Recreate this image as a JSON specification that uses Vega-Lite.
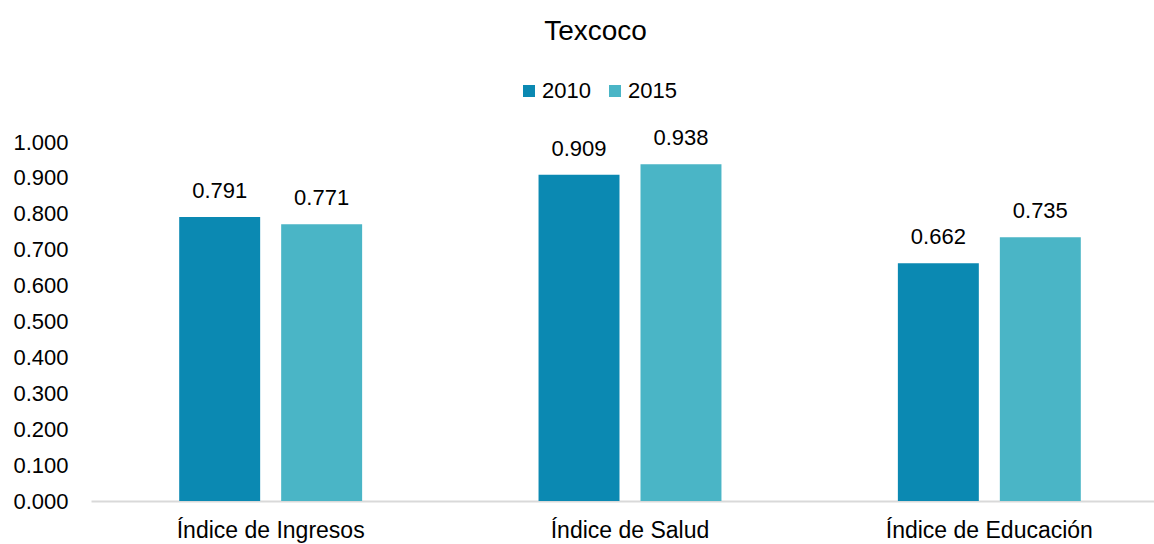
{
  "$schema": "https://vega.github.io/schema/vega-lite/v6.json",
  "autosize": "none",
  "width": 1063,
  "height": 359,
  "padding": {"left": 91, "top": 142, "right": 0, "bottom": 43},
  "background": "white",
  "config": {
    "font": "Liberation Sans",
    "view": {"stroke": null}
  },
  "title": {
    "text": "Texcoco",
    "fontSize": 28,
    "fontWeight": "normal",
    "color": "black",
    "anchor": "middle",
    "frame": "group",
    "baseline": "alphabetic",
    "offset": 12,
    "dx": -27
  },
  "data": {
    "values": [
      {"indice": "Índice de Ingresos", "year": "2010", "value": 0.791},
      {"indice": "Índice de Ingresos", "year": "2015", "value": 0.771},
      {"indice": "Índice de Salud", "year": "2010", "value": 0.909},
      {"indice": "Índice de Salud", "year": "2015", "value": 0.938},
      {"indice": "Índice de Educación", "year": "2010", "value": 0.662},
      {"indice": "Índice de Educación", "year": "2015", "value": 0.735}
    ]
  },
  "encoding": {
    "x": {
      "field": "indice",
      "type": "nominal",
      "sort": ["Índice de Ingresos", "Índice de Salud", "Índice de Educación"],
      "scale": {"range": [0, 1078], "paddingInner": 0, "paddingOuter": 0},
      "axis": {
        "title": null,
        "labelAngle": 0,
        "labelFontSize": 23,
        "labelColor": "black",
        "labelPadding": 18,
        "labelLimit": 0,
        "ticks": false,
        "domain": true,
        "domainColor": "#d9d9d9",
        "domainWidth": 2,
        "grid": false
      }
    },
    "xOffset": {
      "field": "year",
      "type": "nominal",
      "scale": {"domain": ["2010", "2015"], "paddingInner": 0.206, "paddingOuter": 0.865}
    },
    "y": {
      "field": "value",
      "type": "quantitative",
      "scale": {"domain": [0, 1], "nice": false},
      "axis": {
        "title": null,
        "values": [0, 0.1, 0.2, 0.3, 0.4, 0.5, 0.6, 0.7, 0.8, 0.9, 1.0],
        "format": ".3f",
        "labelFontSize": 22,
        "labelColor": "black",
        "labelPadding": 23,
        "ticks": false,
        "domain": false,
        "grid": false
      }
    }
  },
  "layer": [
    {
      "mark": {"type": "bar"},
      "encoding": {
        "color": {
          "field": "year",
          "type": "nominal",
          "scale": {"domain": ["2010", "2015"], "range": ["#0B89B2", "#4AB5C6"]},
          "legend": {
            "title": null,
            "orient": "none",
            "direction": "horizontal",
            "legendX": 427,
            "legendY": -62,
            "symbolType": "square",
            "symbolSize": 144,
            "symbolStrokeWidth": 0,
            "labelFontSize": 22,
            "labelColor": "black",
            "labelOffset": 2,
            "columnPadding": 13
          }
        }
      }
    },
    {
      "mark": {"type": "text", "fontSize": 22, "color": "black", "baseline": "middle", "dy": -26},
      "encoding": {
        "text": {"field": "value", "type": "quantitative", "format": ".3f"}
      }
    }
  ]
}
